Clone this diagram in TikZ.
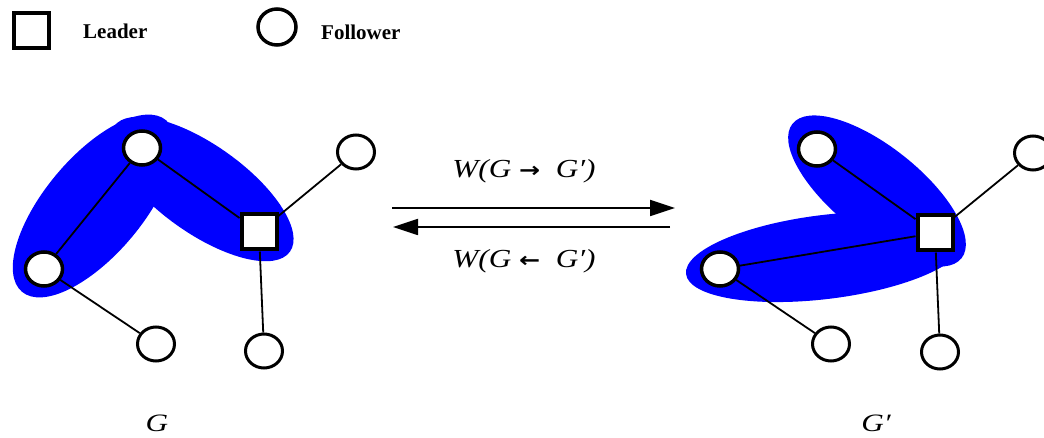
\documentclass[tikz,border=0pt]{standalone}
\usepackage{fontspec}
\setmainfont{Liberation Serif}
\newfontfamily\dejavu{DejaVu Sans}
\usetikzlibrary{arrows.meta,shapes.geometric}
\pgfdeclarelayer{blobs}
\pgfdeclarelayer{links}
\pgfsetlayers{blobs,links,main}
\definecolor{blobblue}{RGB}{0,0,255}
\newcommand{\rarr}{{\upshape\dejavu\bfseries\fontsize{21}{24}\selectfont →}}
\newcommand{\larr}{{\upshape\dejavu\bfseries\fontsize{21}{24}\selectfont ←}}
\begin{document}
\begin{tikzpicture}[x=1pt,y=-1pt,
 fol/.style={ellipse,draw,fill=white,line width=3.5pt,minimum width=37pt,minimum height=34pt,inner sep=0pt},
 folthin/.style={fol,line width=3pt},
 lead/.style={rectangle,draw,fill=white,line width=4pt,minimum size=35pt,inner sep=0pt},
 link/.style={line width=1.8pt},
 blob/.style={fill=blobblue},
 leg/.style={font=\fontsize{21}{24}\selectfont\bfseries,anchor=base west,inner sep=0pt},
 lab/.style={font=\fontsize{26}{30}\selectfont\itshape,anchor=base,inner sep=0pt},
 glab/.style={font=\fontsize{25}{28}\selectfont\itshape,anchor=base,inner sep=0pt},
 flow/.style={line width=1.8pt,-{Triangle[length=25pt,width=16pt]}}]
\useasboundingbox (0,0) rectangle (1044,438);
% legend
\node[lead] (legL) at (31,31) {};
\node[leg] (legLt) at (83,38.5) {Leader};
\node[fol,minimum width=38pt,minimum height=36pt] (legF) at (277,27) {};
\node[leg] (legFt) at (321,40) {Follower};
% left graph
\node[fol] (A) at (142,148) {};
\node[fol] (B) at (44,269) {};
\node[lead] (L) at (259,232) {};
\node[folthin] (C) at (156,344) {};
\node[folthin] (D) at (264,351) {};
\node[folthin] (E) at (356,152) {};
% right graph
\node[fol] (A2) at (817,149) {};
\node[fol] (B2) at (720,269) {};
\node[lead] (L2) at (935,233) {};
\node[folthin] (C2) at (831,344) {};
\node[folthin] (D2) at (940,352) {};
\node[folthin] (E2) at (1033,153) {};
\begin{pgfonlayer}{blobs}
\fill[blob, rotate around={50:(94,206)}] (94,206) ellipse [x radius=112pt, y radius=49pt];
\fill[blob, rotate around={-35.5:(202,189)}] (202,189) ellipse [x radius=108pt, y radius=44pt];
\fill[blob, rotate around={-38.5:(877,191)}] (877,191) ellipse [x radius=108pt, y radius=44pt];
\fill[blob, rotate around={7:(825,257)}] (825,257) ellipse [x radius=140pt, y radius=42pt];
\end{pgfonlayer}
\begin{pgfonlayer}{links}
\draw[link] (A) -- (B);
\draw[link] (A) -- (L);
\draw[link] (B) -- (C);
\draw[link] (L) -- (D);
\draw[link] (L) -- (E);
\draw[link] (A2) -- (L2);
\draw[link] (B2) -- (L2);
\draw[link] (B2) -- (C2);
\draw[link] (L2) -- (D2);
\draw[link] (L2) -- (E2);
\end{pgfonlayer}
% arrows
\coordinate (f1) at (392,208);
\coordinate (f2) at (675,208);
\coordinate (b1) at (670,227);
\coordinate (b2) at (393,227);
\draw[flow] (f1) -- (f2);
\draw[flow] (b1) -- (b2);
\node[lab] (wf) at (524,178) {\scalebox{1.2}[1]{W(G\ \rarr\ \ G′)}};
\node[lab] (wb) at (524,268) {\scalebox{1.2}[1]{W(G\ \larr\ \ G′)}};
\node[glab] (g1) at (157,431) {\scalebox{1.25}[1]{G}};
\node[glab] (g2) at (876,431) {\scalebox{1.25}[1]{G′}};
\end{tikzpicture}
\end{document}
